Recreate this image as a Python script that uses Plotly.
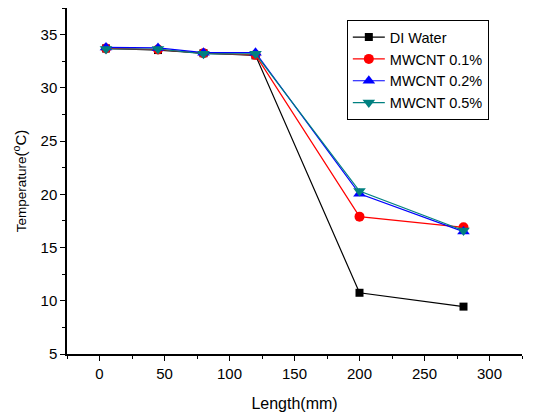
import plotly.graph_objects as go

length_mm = [5, 45, 80, 120, 200, 280]
di_water = [33.7, 33.55, 33.25, 33.05, 10.75, 9.45]
mwcnt_01 = [33.7, 33.6, 33.25, 33.1, 17.9, 16.9]
mwcnt_02 = [33.8, 33.75, 33.3, 33.3, 20.05, 16.5]
mwcnt_05 = [33.65, 33.65, 33.2, 33.2, 20.3, 16.6]

series = [
    ("DI Water", di_water, "black", "square", 8),
    ("MWCNT 0.1%", mwcnt_01, "red", "circle", 10),
    ("MWCNT 0.2%", mwcnt_02, "blue", "triangle-up", 11),
    ("MWCNT 0.5%", mwcnt_05, "#008080", "triangle-down", 11),
]

fig = go.Figure()
for name, vals, color, sym, size in series:
    fig.add_trace(go.Scatter(
        x=length_mm, y=vals, name=name, mode="lines+markers",
        line=dict(color=color, width=1.2),
        marker=dict(symbol=sym, size=size, color=color, line=dict(width=0)),
    ))

font = "Arial, Liberation Sans, sans-serif"
# page body has an 8px margin, so the figure is sized 8px smaller
fig.update_layout(
    width=532, height=407,
    margin=dict(l=59, r=18, t=0, b=61),
    paper_bgcolor="white", plot_bgcolor="white",
    font=dict(family=font, size=15, color="black"),
    showlegend=True,
    legend=dict(x=0.615, y=0.965, xanchor="left", yanchor="top",
                bordercolor="black", borderwidth=1, bgcolor="white",
                font=dict(size=14.5), tracegroupgap=0, itemwidth=32),
    xaxis=dict(range=[-25, 325], tickvals=[0, 50, 100, 150, 200, 250, 300],
               showgrid=False, zeroline=False, showline=True, linecolor="black",
               linewidth=1.5, ticks="outside", ticklen=5, tickwidth=1.2,
               tickcolor="black", automargin=False,
               minor=dict(dtick=25, tick0=0, ticks="outside", ticklen=3,
                          tickwidth=1.2, tickcolor="black", showgrid=False),
               title=dict(text="Length(mm)", standoff=17, font=dict(size=16))),
    yaxis=dict(range=[5, 37.5], tickvals=[5, 10, 15, 20, 25, 30, 35],
               showgrid=False, zeroline=False, showline=True, linecolor="black",
               linewidth=1.5, ticks="outside", ticklen=5, tickwidth=1.2,
               tickcolor="black", automargin=False,
               minor=dict(dtick=2.5, tick0=0, ticks="outside", ticklen=3,
                          tickwidth=1.2, tickcolor="black", showgrid=False),
               title=dict(text="<span style='font-size:13.5px'>Temperature</span>(<sup>o</sup>C)",
                          standoff=10, font=dict(size=15))),
)

fig.write_html("out.html")
